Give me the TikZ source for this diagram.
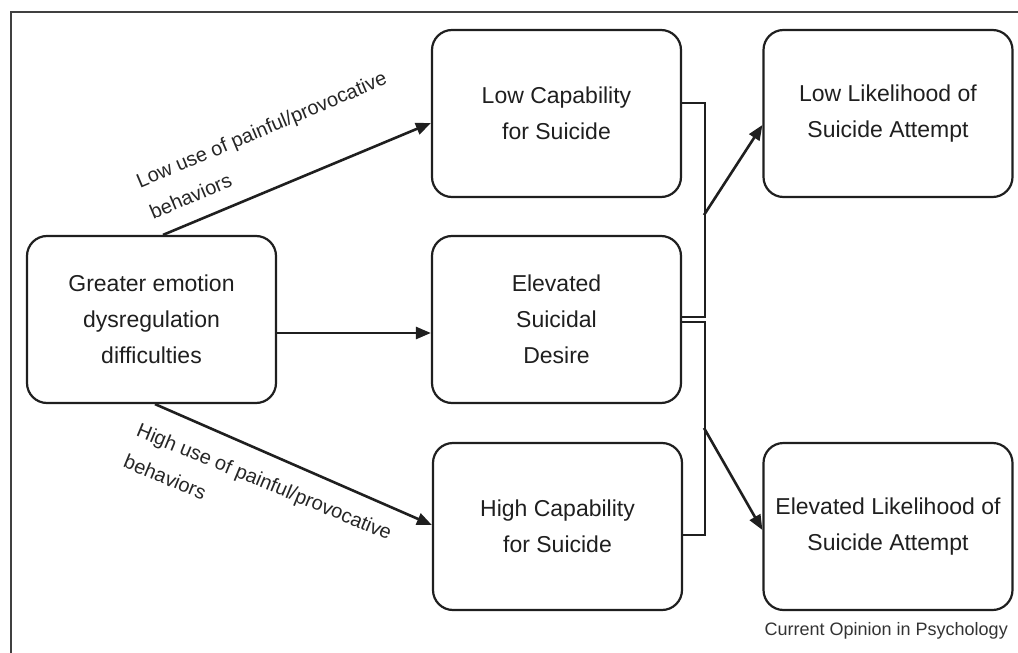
\documentclass[tikz,border=0pt]{standalone}
\usepackage{fontspec}
\setmainfont{Liberation Sans}
\usetikzlibrary{arrows.meta}
\begin{document}
\begin{tikzpicture}[x=1pt,y=-1pt,
 box/.style={draw=black!88, line width=2.2pt, rounded corners=20pt, minimum width=249pt, minimum height=167pt, align=center, font=\fontsize{23}{36}\selectfont, text=black!88, inner sep=0pt},
 arr/.style={line width=2.6pt, draw=black!88, -{Triangle[length=15pt,width=12pt]}},
 brk/.style={line width=1.9pt, draw=black!88},
 lbl/.style={font=\fontsize{20}{34}\selectfont, align=left, text=black!85, inner sep=0pt}]
\useasboundingbox (0,0) rectangle (1018,653);
\draw[line width=1.6pt, black!75] (11,653) -- (11,12) -- (1018,12);

\node[box] (emo) at (151.5,319.5) {Greater emotion\\dysregulation\\difficulties};
\node[box] (lowcap) at (556.5,113.5) {Low Capability\\for Suicide};
\node[box] (desire) at (556.5,319.5) {Elevated\\Suicidal\\Desire};
\node[box] (highcap) at (557.5,526.5) {High Capability\\for Suicide};
\node[box] (lowlike) at (888,113.5) {Low Likelihood of\\Suicide Attempt};
\node[box] (elevlike) at (888,526.5) {Elevated Likelihood of\\Suicide Attempt};

\draw[brk] ([yshift=10.5pt]lowcap.east) -- ++(23,0) |- ([yshift=2.5pt]desire.east);
\draw[brk] ([yshift=-2.5pt]desire.east) -- ++(23,0) |- ([yshift=-8.5pt]highcap.east);
\coordinate (j1) at (704,215);
\coordinate (j2) at (704,428);
\draw[arr] (j1) -- ([yshift=-11.5pt]lowlike.west);
\draw[arr] (j2) -- ([yshift=-3.5pt]elevlike.west);

\draw[arr] ([xshift=11.5pt]emo.north) -- ([yshift=-9.5pt]lowcap.west);
\draw[arr] ([yshift=-13.5pt]emo.east) -- ([yshift=-13.5pt]desire.west);
\draw[arr] ([xshift=3.5pt]emo.south) -- ([yshift=1.5pt]highcap.west);

\node[lbl, rotate=22.9] (lowlbl) at (268,145) {Low use of painful/provocative\\behaviors};
\node[lbl, rotate=-22.5] (highlbl) at (258,497) {High use of painful/provocative\\behaviors};

\node[font=\fontsize{18}{20}\selectfont, anchor=base east, text=black!80, inner sep=0pt] (src) at (1008,635) {Current Opinion in Psychology};
\end{tikzpicture}
\end{document}
